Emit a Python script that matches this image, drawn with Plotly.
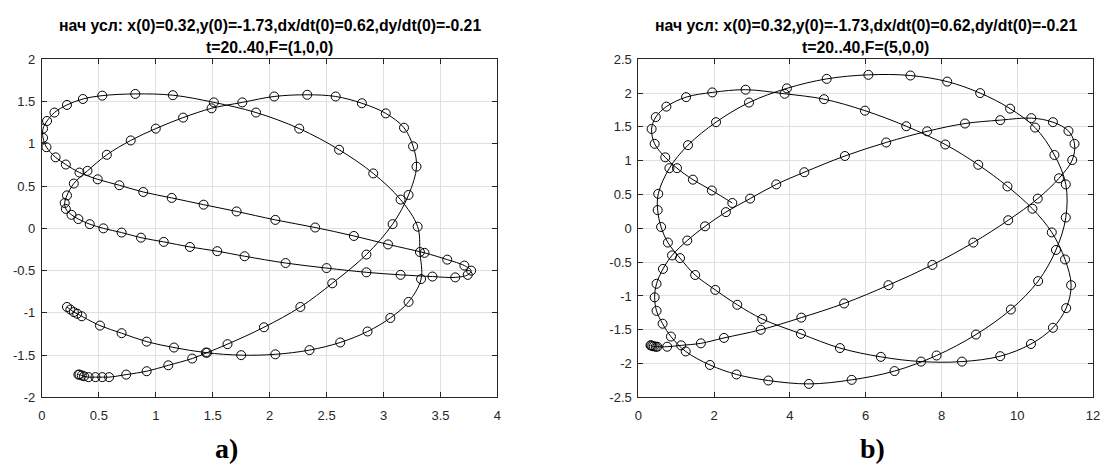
import plotly.graph_objects as go

# ---------------- data: panel a) F=(1,0,0) ----------------
xa = [0.32, 0.33, 0.35, 0.37, 0.41, 0.47, 0.53, 0.59, 0.74, 0.92,
      1.11, 1.32, 1.45, 1.63, 1.95, 2.27, 2.55, 2.85, 3.08, 3.22,
      3.29, 3.26, 3.18, 3.02, 2.81, 2.58, 2.33, 2.04, 1.76, 1.49,
      1.24, 1.00, 0.78, 0.57, 0.40, 0.28, 0.22, 0.20, 0.21, 0.26,
      0.32, 0.42, 0.54, 0.70, 0.87, 1.07, 1.30, 1.54, 1.78, 2.14,
      2.50, 2.85, 3.15, 3.43, 3.63, 3.74, 3.77, 3.71, 3.56, 3.36,
      3.04, 2.74, 2.40, 2.05, 1.71, 1.42, 1.14, 0.89, 0.68, 0.49,
      0.33, 0.21, 0.12, 0.04, 0.01, 0.01, 0.045, 0.11, 0.22, 0.36,
      0.53, 0.82, 1.15, 1.51, 1.88, 2.26, 2.61, 2.91, 3.15, 3.30,
      3.32, 3.33, 3.22, 3.06, 2.86, 2.62, 2.35, 2.05, 1.75, 1.44,
      1.16, 0.92, 0.70, 0.51, 0.35, 0.31, 0.28, 0.25, 0.22]
ya = [-1.73, -1.73, -1.74, -1.75, -1.76, -1.76, -1.76, -1.76, -1.73, -1.69,
      -1.62, -1.54, -1.47, -1.37, -1.17, -0.93, -0.65, -0.31, 0.05, 0.395,
      0.73, 0.97, 1.19, 1.36, 1.48, 1.56, 1.58, 1.56, 1.49, 1.42,
      1.31, 1.18, 1.04, 0.87, 0.68, 0.53, 0.39, 0.30, 0.23, 0.16,
      0.11, 0.05, 0.00, -0.05, -0.11, -0.16, -0.22, -0.27, -0.33, -0.41,
      -0.47, -0.52, -0.55, -0.57, -0.58, -0.55, -0.50, -0.44, -0.37, -0.29,
      -0.19, -0.09, 0.01, 0.10, 0.20, 0.28, 0.36, 0.43, 0.51, 0.58,
      0.66, 0.755, 0.84, 0.96, 1.07, 1.18, 1.27, 1.37, 1.46, 1.53,
      1.57, 1.59, 1.575, 1.49, 1.37, 1.18, 0.93, 0.65, 0.34, 0.02,
      -0.28, -0.60, -0.87, -1.06, -1.22, -1.35, -1.44, -1.49, -1.50, -1.47,
      -1.41, -1.34, -1.24, -1.15, -1.04, -1.01, -0.99, -0.96, -0.93]

# ---------------- data: panel b) F=(5,0,0) ----------------
xb = [0.32, 0.34, 0.37, 0.41, 0.46, 0.50, 0.76, 1.13, 1.65, 2.26,
      3.23, 4.30, 5.43, 6.60, 7.76, 8.84, 9.76, 10.54, 11.10, 11.45,
      11.51, 11.35, 10.94, 10.37, 9.55, 8.62, 7.62, 6.54, 5.45, 4.38,
      3.64, 2.95, 2.31, 1.76, 1.29, 0.89, 0.65, 0.48, 0.43, 0.48,
      0.64, 0.86, 1.25, 1.89, 2.59, 3.43, 4.50, 5.63, 6.76, 7.87,
      8.91, 9.83, 10.55, 11.02, 11.28, 11.28, 10.98, 10.47, 9.81, 9.02,
      8.15, 7.18, 6.07, 4.97, 3.92, 2.92, 2.05, 1.31, 0.82, 0.525,
      0.51, 0.60, 0.78, 1.10, 1.50, 2.03, 2.61, 3.27, 4.29, 5.32,
      6.40, 7.46, 8.54, 9.55, 10.36, 10.94, 11.29, 11.42, 11.26, 10.91,
      10.40, 9.74, 8.97, 8.10, 7.07, 5.98, 4.90, 3.86, 2.83, 1.95,
      1.26, 0.74, 0.46, 0.35, 0.43, 0.71, 1.02, 1.44, 1.94, 2.48]
yb = [-1.73, -1.73, -1.74, -1.745, -1.75, -1.75, -1.75, -1.73, -1.70, -1.62,
      -1.50, -1.32, -1.11, -0.84, -0.54, -0.21, 0.12, 0.44, 0.74, 1.01,
      1.25, 1.44, 1.57, 1.63, 1.60, 1.55, 1.435, 1.27, 1.07, 0.83,
      0.65, 0.44, 0.24, 0.03, -0.18, -0.40, -0.60, -0.82, -1.02, -1.22,
      -1.41, -1.60, -1.82, -2.02, -2.16, -2.25, -2.30, -2.24, -2.11, -1.88,
      -1.57, -1.20, -0.78, -0.32, 0.16, 0.65, 1.085, 1.49, 1.77, 2.00,
      2.17, 2.26, 2.27, 2.21, 2.07, 1.86, 1.57, 1.23, 0.89, 0.51,
      0.27, 0.02, -0.21, -0.44, -0.69, -0.91, -1.13, -1.34, -1.56, -1.77,
      -1.90, -1.97, -1.97, -1.89, -1.71, -1.47, -1.18, -0.84, -0.46, -0.06,
      0.29, 0.62, 0.94, 1.24, 1.51, 1.74, 1.91, 1.99, 2.05, 2.01,
      1.94, 1.80, 1.645, 1.47, 1.25, 1.05, 0.89, 0.72, 0.56, 0.375]

# ---------------- ticks and texts ----------------
xa_ticks = [0, 0.5, 1, 1.5, 2, 2.5, 3, 3.5, 4]
xa_labels = ["0", "0.5", "1", "1.5", "2", "2.5", "3", "3.5", "4"]
ya_ticks = [-2, -1.5, -1, -0.5, 0, 0.5, 1, 1.5, 2]
ya_labels = ["-2", "-1.5", "-1", "-0.5", "0", "0.5", "1", "1.5", "2"]
xb_ticks = [0, 2, 4, 6, 8, 10, 12]
xb_labels = ["0", "2", "4", "6", "8", "10", "12"]
yb_ticks = [-2.5, -2, -1.5, -1, -0.5, 0, 0.5, 1, 1.5, 2, 2.5]
yb_labels = ["-2.5", "-2", "-1.5", "-1", "-0.5", "0", "0.5", "1", "1.5", "2", "2.5"]

title_line1 = "нач усл: x(0)=0.32,y(0)=-1.73,dx/dt(0)=0.62,dy/dt(0)=-0.21"
title_a_line2 = "t=20..40,F=(1,0,0)"
title_b_line2 = "t=20..40,F=(5,0,0)"
panel_labels = ["a)", "b)"]

# ---------------- figure ----------------
W, H = 1109, 470
AX_C = "#262626"
GRID_C = "#e0e0e0"
FONT = "Liberation Sans, Arial, Helvetica, sans-serif"

def px_x(p):
    return p / W

def px_y(p):
    return 1 - p / H

fig = go.Figure()

def add_traj(x, y, xref, yref):
    fig.add_trace(go.Scatter(
        x=x, y=y, xaxis=xref, yaxis=yref, mode="lines+markers",
        line=dict(color="black", width=1.0, shape="spline", smoothing=1.0),
        marker=dict(symbol="circle-open", size=9, color="black",
                    line=dict(color="black", width=1.0)),
        showlegend=False, hoverinfo="x+y"))

add_traj(xa, ya, "x", "y")
add_traj(xb, yb, "x2", "y2")

top_px, bot_px = 54.0, 403.3
ydom = [px_y(bot_px), px_y(top_px)]

common = dict(
    showline=True, linecolor=AX_C, linewidth=1, mirror="ticks",
    ticks="inside", ticklen=5, tickwidth=1, tickcolor=AX_C,
    showgrid=True, gridcolor=GRID_C, gridwidth=1, zeroline=False,
    tickfont=dict(family=FONT, size=13, color=AX_C),
    tickmode="array", fixedrange=True, ticklabeloverflow="allow",
)

fig.update_layout(
    width=W, height=H,
    margin=dict(l=0, r=0, t=0, b=0),
    paper_bgcolor="white", plot_bgcolor="white",
    xaxis=dict(domain=[px_x(38.3), px_x(498.3)], range=[0, 4],
               tickvals=xa_ticks, ticktext=xa_labels, anchor="y",
               ticklabelstandoff=6, **common),
    yaxis=dict(domain=ydom, range=[-2, 2],
               tickvals=ya_ticks, ticktext=ya_labels, anchor="x",
               ticklabelstandoff=3, **common),
    xaxis2=dict(domain=[px_x(640.7), px_x(1100.0)], range=[0, 12],
                tickvals=xb_ticks, ticktext=xb_labels, anchor="y2",
                ticklabelstandoff=6, **common),
    yaxis2=dict(domain=ydom, range=[-2.5, 2.5],
                tickvals=yb_ticks, ticktext=yb_labels, anchor="x2",
                ticklabelstandoff=3, **common),
)

centers = [px_x((38.3 + 498.3) / 2), px_x((640.7 + 1100.0) / 2)]
line2 = [title_a_line2, title_b_line2]
for c, l2 in zip(centers, line2):
    fig.add_annotation(x=c, y=px_y(19.0), xref="paper", yref="paper",
                       text="<b>" + title_line1 + "</b>", showarrow=False,
                       xanchor="center", yanchor="middle",
                       font=dict(family=FONT, size=15.8, color="black"))
    fig.add_annotation(x=c, y=px_y(42.0), xref="paper", yref="paper",
                       text="<b>" + l2 + "</b>", showarrow=False,
                       xanchor="center", yanchor="middle",
                       font=dict(family=FONT, size=15.8, color="black"))

label_x = [px_x(225), px_x(877)]
for lx, lab in zip(label_x, panel_labels):
    fig.add_annotation(x=lx, y=px_y(456), xref="paper", yref="paper",
                       text="<b>" + lab + "</b>", showarrow=False,
                       xanchor="center", yanchor="middle",
                       font=dict(family="Liberation Serif, Times New Roman, serif",
                                 size=28, color="black"))

fig.write_html(
    "out.html",
    config={"displayModeBar": False},
    post_script="document.body.style.margin='0px';"
                "document.body.style.overflow='hidden';",
)
